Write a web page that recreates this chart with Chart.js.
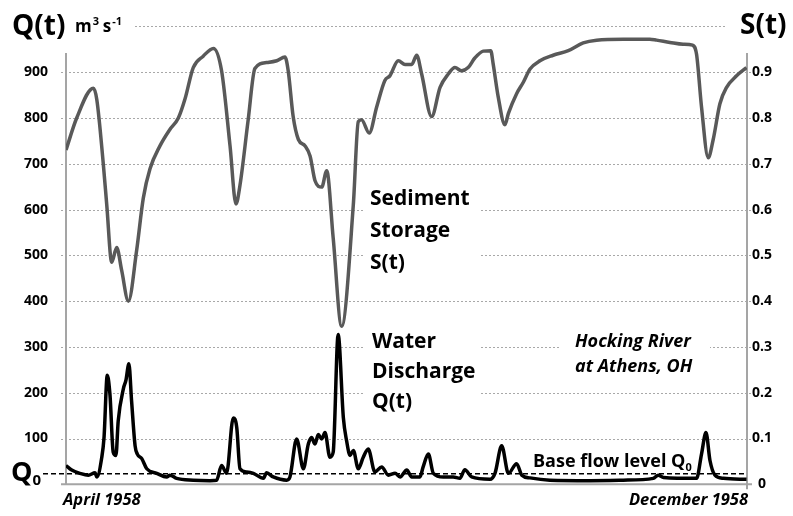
<!DOCTYPE html>
<html>
<head>
<meta charset="utf-8">
<script src="https://cdn.jsdelivr.net/npm/chart.js@4.4.1/dist/chart.umd.min.js"></script>
<style>
  html, body { margin: 0; padding: 0; background: #fff; }
  canvas { display: block; }
</style>
</head>
<body>
<canvas id="chart" width="793" height="516"></canvas>
<script>
// days counted from 1 April 1958
const storageDays = [0, 4.3, 11.0, 12.4, 15.0, 16.4, 18.4, 20.4, 22.4, 25.1, 28.4, 31.1, 33.8, 37.8, 41.8, 45.2, 47.9, 51.2, 55.2, 59.3,
  62.6, 66.0, 68.4, 70.0, 73.3, 76.0, 80.7, 84.8, 88.1, 89.4, 91.4, 93.5, 96.2, 98.2, 100.2, 102.9, 104.9, 107.5, 110.9, 115.6,
  117.6, 118.9, 122.0, 125.0, 128.3, 130.3, 133.7, 136.4, 139.1, 141.1, 143.1, 147.1, 150.5, 153.8, 156.5, 159.2, 161.8, 164.5, 167.9, 170.9,
  171.9, 173.9, 176.6, 178.0, 181.3, 184.0, 186.7, 190.7, 196.0, 202.1, 208.1, 213.5, 224.2, 234.9, 237.6, 243.0, 248.3, 252.1, 253.7, 255.7,
  258.4, 260.4, 263.1, 265.8, 269.8, 273.8];
const storageVals = [0.73, 0.80, 0.865, 0.84, 0.70, 0.61, 0.485, 0.517, 0.467, 0.40, 0.51, 0.625, 0.689, 0.739, 0.775, 0.80, 0.842, 0.91, 0.935, 0.952,
  0.903, 0.739, 0.612, 0.653, 0.796, 0.908, 0.921, 0.925, 0.933, 0.903, 0.803, 0.753, 0.739, 0.717, 0.663, 0.649, 0.685, 0.538, 0.345, 0.61,
  0.792, 0.796, 0.767, 0.824, 0.882, 0.892, 0.925, 0.917, 0.917, 0.937, 0.896, 0.803, 0.867, 0.896, 0.91, 0.903, 0.91, 0.931, 0.946, 0.947,
  0.917, 0.846, 0.785, 0.81, 0.853, 0.878, 0.907, 0.925, 0.937, 0.947, 0.964, 0.970, 0.972, 0.972, 0.970, 0.965, 0.961, 0.959, 0.939, 0.824,
  0.713, 0.753, 0.831, 0.867, 0.892, 0.91];

const flowDays = [0, 2.3, 5.6, 9.0, 11.7, 12.4, 14.4, 15.3, 16.6, 17.7, 19.0, 20.1, 21.0, 23.1, 24.1, 25.3, 26.4, 27.8, 28.7, 30.5,
  32.5, 36.5, 40.5, 41.8, 44.5, 51.2, 57.9, 60.6, 62.6, 64.6, 67.3, 68.7, 70.0, 72.7, 75.4, 79.4, 80.7, 83.4, 88.8, 90.1,
  92.8, 95.5, 97.5, 98.8, 100.2, 101.5, 102.9, 104.2, 106.2, 107.5, 109.5, 111.6, 112.9, 114.3, 115.6, 117.6, 119.6, 121.6, 124.3, 127.0,
  129.7, 132.4, 134.4, 137.1, 139.1, 142.4, 143.7, 145.8, 147.8, 151.8, 155.8, 158.5, 160.5, 163.2, 170.6, 172.6, 175.3, 178.0, 181.3, 183.4,
  186.7, 194.7, 210.8, 224.2, 236.3, 238.3, 240.4, 253.7, 255.7, 257.5, 259.1, 261.1, 264.5, 273.8];
const flowVals = [41, 31, 24, 20, 25, 16, 59, 102, 238, 195, 70, 63, 138, 209, 227, 263, 181, 84, 66, 56,
  34, 24, 16, 20, 13, 9, 8, 9, 41, 24, 145, 124, 34, 27, 24, 13, 25, 16, 9, 16,
  99, 34, 88, 102, 88, 109, 99, 113, 59, 70, 327, 145, 95, 63, 74, 34, 59, 77, 27, 38,
  20, 24, 16, 31, 16, 16, 38, 66, 24, 16, 16, 13, 32, 16, 11, 24, 84, 24, 45, 20,
  14, 9, 8, 9, 13, 20, 15, 13, 66, 113, 52, 20, 13, 11];

const qTicks = [100, 200, 300, 400, 500, 600, 700, 800, 900];
const sTicks = [0, 0.1, 0.2, 0.3, 0.4, 0.5, 0.6, 0.7, 0.8, 0.9];
const gridLevels = [100, 200, 300, 400, 500, 600, 700, 800, 900, 1000];
const baseFlow = 23;
const startLabel = 'April 1958';
const endLabel = 'December 1958';

const FONT = '"Open Sans", "Noto Sans", sans-serif';

function txt(ctx, s, x, y, size, opts) {
  opts = opts || {};
  ctx.font = (opts.italic ? 'italic ' : '') + 'bold ' + size + 'px ' + FONT;
  ctx.textAlign = opts.align || 'left';
  ctx.textBaseline = 'alphabetic';
  ctx.fillStyle = '#000';
  ctx.fillText(s, x, y);
  ctx.textAlign = 'left';
  return ctx.measureText(s).width;
}

const decor = {
  id: 'decor',
  beforeDatasetsDraw(chart) {
    const ctx = chart.ctx;
    const yq = chart.scales.yQ;
    const L = chart.chartArea.left, R = chart.chartArea.right, B = chart.chartArea.bottom;
    ctx.save();

    // dotted grid lines
    ctx.strokeStyle = '#a8a8a8';
    ctx.lineWidth = 1;
    ctx.setLineDash([2, 2]);
    gridLevels.forEach(v => {
      const y = Math.round(yq.getPixelForValue(v)) + 0.5;
      const x0 = v === 1000 ? 135 : L - 5;
      const x1 = v === 1000 ? 727 : R + 5;
      ctx.beginPath(); ctx.moveTo(x0, y); ctx.lineTo(x1, y); ctx.stroke();
    });
    ctx.setLineDash([]);

    // white boxes behind the labels
    ctx.fillStyle = '#fff';
    ctx.fillRect(363, 178, 118, 100);
    ctx.fillRect(365, 322, 116, 100);
    ctx.fillRect(561, 326, 149, 50);

    // axes
    const axTop = yq.getPixelForValue(942);
    ctx.strokeStyle = '#a5a5a5';
    ctx.lineWidth = 2;
    ctx.beginPath();
    ctx.moveTo(L, axTop); ctx.lineTo(L, B);
    ctx.moveTo(L - 5, B); ctx.lineTo(R + 5, B);
    ctx.moveTo(R, axTop); ctx.lineTo(R, B + 5);
    ctx.stroke();

    // base flow level
    const yb = yq.getPixelForValue(baseFlow);
    ctx.strokeStyle = '#000';
    ctx.lineWidth = 1.5;
    ctx.setLineDash([5, 3]);
    ctx.beginPath(); ctx.moveTo(43, yb); ctx.lineTo(R, yb); ctx.stroke();
    ctx.setLineDash([]);

    // titles and notes
    let w = txt(ctx, 'Q(t)', 12, 35, 28);
    let x = 75;
    x += txt(ctx, 'm', x, 32, 17);
    txt(ctx, '3', x + 1, 25, 11);
    x += 11;
    x += txt(ctx, 's', x, 32, 17);
    txt(ctx, '-1', x + 1, 25, 11);

    txt(ctx, 'S(t)', 740, 34, 28);

    w = txt(ctx, 'Q', 11, 481, 27);
    txt(ctx, '0', 11 + w, 485, 15);

    ['Sediment', 'Storage', 'S(t)'].forEach((s, i) => txt(ctx, s, 370, 205 + i * 32, 21));
    ['Water', 'Discharge', 'Q(t)'].forEach((s, i) => txt(ctx, s, 372, 348 + i * 30, 21));

    txt(ctx, 'Hocking River', 575, 347, 18, {italic: true});
    txt(ctx, 'at Athens, OH', 575, 372, 18, {italic: true});

    w = txt(ctx, 'Base flow level Q', 533, 467, 18);
    txt(ctx, '0', 533 + w, 471, 11);

    txt(ctx, startLabel, 63, 505, 16.5, {italic: true});
    txt(ctx, endLabel, 748, 505, 16.5, {italic: true, align: 'right'});

    ctx.restore();
  }
};

new Chart(document.getElementById('chart'), {
  type: 'line',
  data: {
    datasets: [
      {
        label: 'Water Discharge Q(t)',
        data: flowDays.map((d, i) => ({x: d, y: flowVals[i]})),
        yAxisID: 'yQ',
        borderColor: '#000',
        borderWidth: 3.5,
        pointRadius: 0,
        cubicInterpolationMode: 'monotone',
        fill: false
      },
      {
        label: 'Sediment Storage S(t)',
        data: storageDays.map((d, i) => ({x: d, y: storageVals[i]})),
        yAxisID: 'yS',
        borderColor: '#595959',
        borderWidth: 3.5,
        pointRadius: 0,
        cubicInterpolationMode: 'monotone',
        fill: false
      }
    ]
  },
  options: {
    responsive: false,
    animation: false,
    layout: {padding: {top: 18.4, bottom: 31.7, left: 0, right: 0}},
    plugins: {legend: {display: false}, tooltip: {enabled: false}},
    scales: {
      x: {type: 'linear', min: 0, max: 274, display: false},
      yQ: {
        position: 'left', min: 0, max: 1000,
        afterFit: s => { s.width = 66; },
        afterBuildTicks: s => { s.ticks = qTicks.map(v => ({value: v})); },
        grid: {display: false, drawTicks: false},
        border: {display: false},
        ticks: {padding: 18, color: '#000', font: {family: FONT, weight: 'bold', size: 14}}
      },
      yS: {
        position: 'right', min: 0, max: 1,
        afterFit: s => { s.width = 46; },
        afterBuildTicks: s => { s.ticks = sTicks.map(v => ({value: v})); },
        grid: {display: false, drawTicks: false},
        border: {display: false},
        ticks: {
          padding: 5, crossAlign: 'center', color: '#000',
          font: {family: FONT, weight: 'bold', size: 14},
          callback: v => v === 0 ? '0' : v.toFixed(1)
        }
      }
    }
  },
  plugins: [decor]
});
</script>
</body>
</html>
